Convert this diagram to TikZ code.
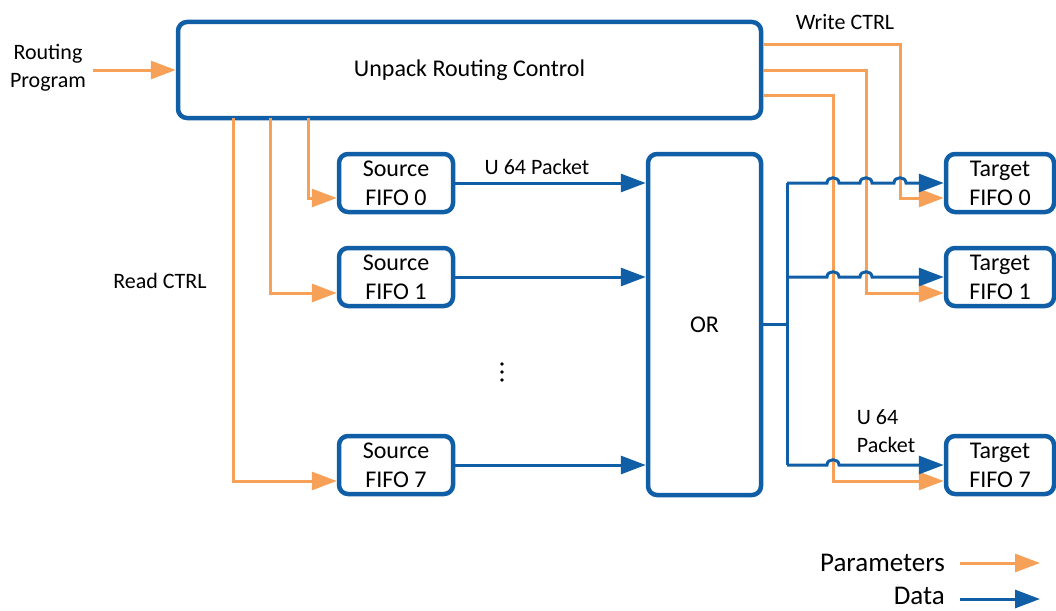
\documentclass[tikz,border=0pt]{standalone}
\usepackage{fontspec}
\setmainfont{Carlito}
\usetikzlibrary{arrows.meta}
\definecolor{dblue}{RGB}{16,94,166}
\definecolor{porange}{RGB}{247,160,88}
\tikzset{
  blk/.style={draw=dblue, line width=4.5pt, rounded corners=9pt, fill=white,
    inner sep=0pt, align=center, font=\fontsize{24}{29}\selectfont},
  param/.style={draw=porange, line width=3pt, -{Triangle[length=25pt,width=18pt]}},
  data/.style={draw=dblue, line width=3pt, -{Triangle[length=25pt,width=18pt]}},
  dataline/.style={draw=dblue, line width=3pt},
  lbl/.style={align=center, font=\fontsize{22}{28}\selectfont, inner sep=0pt},
  legend/.style={anchor=east, inner sep=0pt, font=\fontsize{27}{30}\selectfont},
}
% hop over a vertical line at x = #1 on a horizontal run at height #2
\newcommand{\hopat}[2]{-- (#1-6,#2) .. controls (#1-6,#2-7) and (#1+6,#2-7) .. (#1+6,#2)}
\begin{document}
\begin{tikzpicture}[x=1pt,y=-1pt]
\useasboundingbox (0,0) rectangle (1056,610);

% blocks
\node[blk, minimum width=583pt, minimum height=96pt] (unpack) at (469.5,70) {Unpack Routing Control};
\node[blk, minimum width=114pt, minimum height=58pt] (src0) at (396,183) {Source\\FIFO 0};
\node[blk, minimum width=114pt, minimum height=58pt] (src1) at (396,277) {Source\\FIFO 1};
\node[blk, minimum width=114pt, minimum height=58pt] (src7) at (396,465) {Source\\FIFO 7};
\node[blk, minimum width=113pt, minimum height=341pt] (or) at (704.5,324.5) {OR};
\node[blk, minimum width=108pt, minimum height=58pt] (tgt0) at (1000,183) {Target\\FIFO 0};
\node[blk, minimum width=108pt, minimum height=58pt] (tgt1) at (1000,277) {Target\\FIFO 1};
\node[blk, minimum width=108pt, minimum height=58pt] (tgt7) at (1000,465) {Target\\FIFO 7};

% labels
\node[lbl] (rp) at (48,68) {Routing\\Program};
\node[lbl] (rd) at (160,281) {Read CTRL};
\node[lbl] (wr) at (845,22) {Write CTRL};
\node[lbl] (pk0) at (537,167) {U 64 Packet};
\node[lbl, align=left] (pk7) at (886,431) {U 64\\Packet};

% vertical ellipsis between FIFO 1 and FIFO 7
\foreach \yy in {364,372,380} \fill (502,\yy) circle (1.8pt);

% routing program input
\coordinate (rpin) at (93,70);
\draw[param] (rpin) -- (unpack.west);

% read control to the source FIFOs
\coordinate (rc7) at (233,118);
\coordinate (rc1) at (270,118);
\coordinate (rc0) at (308,118);
\draw[param] (rc0) |- ([yshift=-15pt]src0.west);
\draw[param] (rc1) |- ([yshift=-16pt]src1.west);
\draw[param] (rc7) |- ([yshift=-16pt]src7.west);

% data from the source FIFOs into the OR
\draw[data] (src0.east) -- (or.west |- src0.east);
\draw[data] (src1.east) -- (or.west |- src1.east);
\draw[data] (src7.east) -- (or.west |- src7.east);

% write control to the target FIFOs
\draw[param] ([yshift=25pt]unpack.east) -| (900,198) -- ([yshift=-15pt]tgt0.west);
\draw[param] (unpack.east) -| (866,293) -- ([yshift=-16pt]tgt1.west);
\draw[param] ([yshift=-25pt]unpack.east) -| (833,481) -- ([yshift=-16pt]tgt7.west);

% OR output bus with hops over the write control lines
\coordinate (bus) at (787,324.5);
\draw[dataline] (or.east) -- (bus);
\draw[dataline] (787,183) -- (787,465);
\draw[data] (787,183) \hopat{833}{183} \hopat{866}{183} \hopat{900}{183} -- (tgt0.west);
\draw[data] (787,277) \hopat{833}{277} \hopat{866}{277} -- (tgt1.west);
\draw[data] (787,465) \hopat{833}{465} -- (tgt7.west);

% legend
\node[legend] (lgp) at (945,563) {Parameters};
\node[legend] (lgd) at (945,596) {Data};
\coordinate (lgpe) at (1040,563);
\coordinate (lgde) at (1040,599);
\draw[param] ([xshift=15pt]lgp.east) -- (lgpe);
\draw[data] ([xshift=15pt,yshift=-3pt]lgd.east) -- (lgde);
\end{tikzpicture}
\end{document}
